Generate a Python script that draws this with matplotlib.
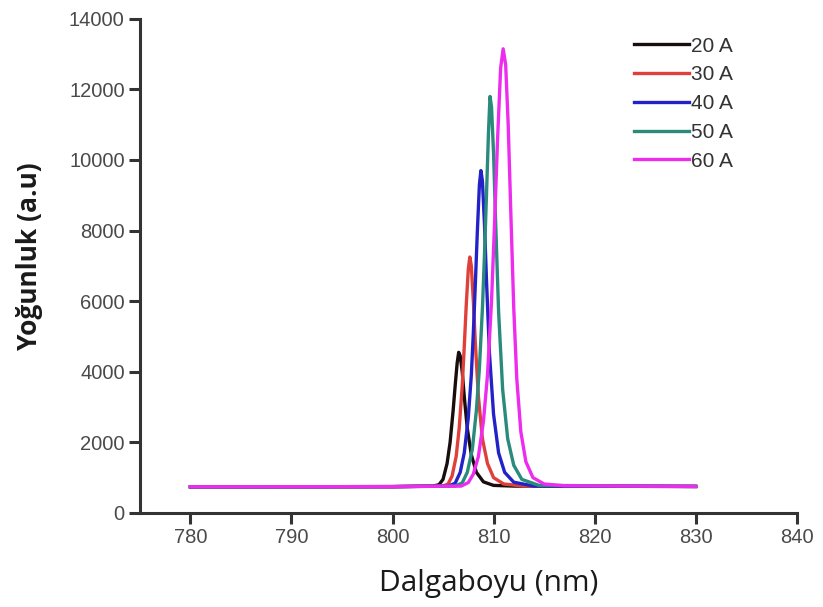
import numpy as np
from matplotlib import pyplot as plt

# akim degerleri ve renkler
labels = ["20 A", "30 A", "40 A", "50 A", "60 A"]
colors = ["#1a0d0d", "#e0403a", "#2222c8", "#2a8a7c", "#ee2cee"]

# dalgaboyu (nm) ve yogunluk (a.u)
wl_20 = [780, 800, 804, 804.6, 805.0, 805.4, 805.7, 806.0, 806.2, 806.4, 806.55, 806.7, 806.9, 807.1, 807.4, 807.8, 808.3, 809.0, 810.0, 812, 830]
in_20 = [740, 745, 760, 800, 950, 1400, 2000, 2900, 3600, 4250, 4550, 4450, 4000, 3300, 2400, 1650, 1150, 880, 780, 760, 750]

wl_30 = [780, 800, 805, 805.5, 805.9, 806.3, 806.6, 806.9, 807.1, 807.3, 807.5, 807.65, 807.8, 808.0, 808.2, 808.5, 808.9, 809.4, 810.0, 811.0, 813, 830]
in_30 = [740, 745, 760, 820, 1050, 1600, 2400, 3600, 4700, 5900, 6900, 7250, 7000, 6000, 4800, 3300, 2100, 1400, 1000, 820, 760, 750]

wl_40 = [780, 800, 805.5, 806.2, 806.7, 807.1, 807.5, 807.8, 808.0, 808.2, 808.4, 808.6, 808.75, 808.9, 809.1, 809.3, 809.6, 810.0, 810.5, 811.1, 812.0, 814, 830]
in_40 = [740, 745, 760, 840, 1150, 1700, 2700, 3900, 5100, 6500, 8000, 9300, 9700, 9400, 8200, 6600, 4500, 2800, 1700, 1150, 870, 760, 750]

wl_50 = [780, 800, 806.2, 806.9, 807.4, 807.9, 808.3, 808.6, 808.9, 809.1, 809.3, 809.5, 809.65, 809.8, 810.0, 810.2, 810.5, 810.9, 811.4, 812.0, 812.8, 814.5, 830]
in_50 = [740, 745, 760, 850, 1150, 1800, 2900, 4100, 5800, 7300, 9000, 10800, 11800, 11500, 10200, 8300, 5700, 3500, 2100, 1350, 950, 780, 750]

wl_60 = [780, 800, 806.8, 807.5, 808.0, 808.5, 809.0, 809.4, 809.8, 810.1, 810.4, 810.7, 810.95, 811.2, 811.45, 811.7, 812.0, 812.3, 812.7, 813.2, 813.9, 815.0, 817, 830]
in_60 = [740, 745, 760, 860, 1100, 1600, 2600, 3900, 6000, 8200, 10600, 12600, 13150, 12700, 11000, 8600, 5800, 3800, 2300, 1450, 1000, 820, 770, 750]

series = [(wl_20, in_20), (wl_30, in_30), (wl_40, in_40), (wl_50, in_50), (wl_60, in_60)]

plt.rcParams["font.family"] = ["Liberation Sans", "DejaVu Sans"]

fig = plt.figure(figsize=(8.23, 6.07), dpi=100)
ax = fig.add_axes([0.170, 0.155, 0.798, 0.814])

for (x, y), c, lab in zip(series, colors, labels):
    ax.plot(x, y, color=c, lw=2.4, label=lab, solid_joinstyle="round")

ax.set_xlim(775, 840)
ax.set_ylim(0, 14000)
ax.set_xticks(np.arange(780, 841, 10))
ax.set_yticks(np.arange(0, 14001, 2000))

for s in ["top", "right"]:
    ax.spines[s].set_visible(False)
for s in ["left", "bottom"]:
    ax.spines[s].set_linewidth(2.2)
    ax.spines[s].set_color("#333333")
ax.tick_params(direction="out", length=8, width=2.2, color="#333333",
               labelsize=14.5, labelcolor="#4a4a4a", pad=3)

ax.set_xlabel("Dalgaboyu (nm)", fontsize=21.5, family="Open Sans", color="#1a1a1a")
ax.xaxis.set_label_coords(0.531, -0.113)
ax.set_ylabel("Yoğunluk (a.u)", fontsize=19, family="Open Sans", fontweight="bold",
              color="#1a1a1a")
ax.yaxis.set_label_coords(-0.148, 0.52)

leg = ax.legend(loc="upper left", bbox_to_anchor=(0.753, 0.964), frameon=False,
                borderpad=0, borderaxespad=0,
                fontsize=15, handlelength=2.6, handletextpad=0.1, labelspacing=0.47)
for t in leg.get_texts():
    t.set_color("#333333")

fig.savefig("out.png", dpi=100)
